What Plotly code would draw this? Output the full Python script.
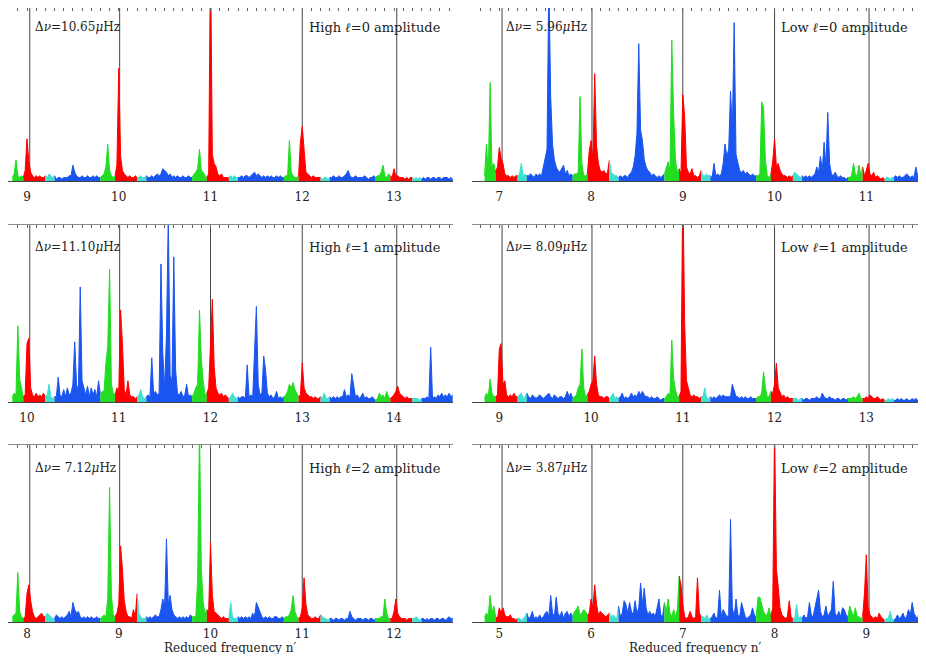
import numpy as np
import plotly.graph_objects as go

# Spectra sampled every 0.02 in reduced frequency n', amplitude in % of panel height
grid_step = 0.02

# High l=0 (Delta nu = 10.65 muHz), first sample at n' = 8.84
amp_high_l0 = [
    2, 4, 12, 3, 2, 3, 2, 6, 24, 11,
    5, 3, 2, 3, 2, 3, 2, 2, 3, 2,
    4, 3, 2, 3, 1, 2, 2, 1, 2, 2,
    2, 3, 3, 9, 5, 3, 2, 2, 3, 2,
    2, 3, 2, 2, 3, 2, 3, 2, 2, 3,
    4, 8, 21, 6, 3, 2, 3, 9, 64, 14,
    6, 4, 3, 2, 3, 2, 2, 3, 2, 2,
    3, 2, 2, 3, 2, 2, 3, 2, 3, 4,
    3, 4, 7, 6, 5, 3, 4, 2, 3, 2,
    3, 2, 2, 3, 2, 2, 3, 2, 2, 4,
    5, 7, 18, 6, 5, 3, 2, 4, 130, 15,
    10, 8, 4, 3, 4, 2, 2, 2, 2, 3,
    2, 3, 2, 2, 2, 3, 2, 3, 3, 2,
    3, 4, 5, 3, 4, 3, 2, 3, 2, 3,
    2, 3, 2, 2, 3, 2, 3, 2, 2, 3,
    3, 23, 5, 3, 2, 2, 3, 22, 31, 15,
    5, 4, 3, 2, 3, 2, 2, 2, 2, 1,
    2, 2, 1, 2, 2, 3, 2, 2, 3, 2,
    2, 3, 4, 6, 3, 2, 2, 3, 2, 2,
    2, 2, 3, 2, 1, 2, 2, 3, 2, 3,
    3, 5, 9, 3, 2, 4, 3, 2, 7, 3,
    3, 2, 2, 2, 1, 2, 1, 2, 2, 1,
    2, 1, 2, 1, 2, 1, 2, 2, 1, 2,
    2, 1, 2, 2, 1, 2, 2, 2, 1, 2,
    1,
]

# Low l=0 (Delta nu = 5.96 muHz), first sample at n' = 6.84
amp_low_l0 = [
    3, 21, 5, 56, 8, 10, 5, 8, 19, 13,
    10, 4, 3, 3, 2, 3, 2, 3, 3, 4,
    10, 3, 4, 3, 3, 4, 3, 2, 4, 3,
    4, 3, 8, 14, 18, 115, 48, 21, 12, 8,
    6, 5, 7, 9, 4, 6, 3, 4, 3, 4,
    4, 5, 48, 10, 3, 3, 4, 17, 23, 12,
    61, 20, 10, 6, 5, 6, 4, 5, 12, 5,
    4, 3, 3, 2, 3, 2, 3, 3, 2, 4,
    5, 8, 14, 27, 78, 29, 23, 12, 8, 6,
    5, 3, 4, 3, 2, 3, 2, 3, 4, 8,
    11, 6, 80, 38, 12, 5, 7, 4, 49, 37,
    8, 5, 4, 7, 3, 3, 2, 3, 6, 3,
    3, 4, 3, 3, 2, 10, 3, 4, 3, 4,
    10, 21, 14, 18, 51, 29, 90, 15, 10, 6,
    5, 6, 4, 5, 4, 3, 4, 3, 3, 3,
    4, 45, 42, 12, 3, 2, 4, 11, 24, 8,
    10, 6, 4, 3, 3, 2, 3, 2, 3, 5,
    4, 3, 2, 3, 2, 3, 2, 3, 2, 3,
    4, 8, 5, 14, 6, 22, 9, 39, 10, 4,
    3, 5, 3, 2, 3, 2, 2, 1, 2, 2,
    3, 10, 4, 3, 9, 3, 8, 3, 6, 10,
    4, 3, 5, 2, 3, 2, 1, 2, 1, 2,
    2, 1, 2, 2, 3, 2, 3, 2, 2, 3,
    4, 3, 2, 3, 2, 8, 3, 4, 2, 9,
    3,
]

# High l=1 (Delta nu = 11.10 muHz), first sample at n' = 9.84
amp_high_l1 = [
    3, 5, 4, 43, 13, 8, 3, 4, 33, 36,
    8, 4, 3, 5, 3, 4, 3, 5, 3, 4,
    10, 3, 2, 3, 3, 14, 4, 3, 7, 3,
    8, 4, 5, 10, 34, 10, 6, 65, 12, 8,
    4, 9, 3, 8, 4, 7, 3, 12, 4, 6,
    6, 22, 31, 75, 10, 5, 4, 8, 6, 52,
    33, 7, 4, 12, 4, 3, 3, 2, 3, 4,
    7, 3, 2, 3, 4, 3, 25, 5, 6, 4,
    5, 78, 28, 8, 38, 105, 15, 12, 82, 18,
    5, 4, 6, 3, 4, 10, 3, 4, 3, 5,
    8, 10, 52, 24, 12, 4, 5, 8, 32, 58,
    20, 8, 5, 4, 5, 3, 4, 3, 2, 3,
    5, 3, 2, 3, 2, 3, 3, 2, 21, 3,
    4, 3, 29, 54, 10, 4, 5, 26, 18, 5,
    3, 4, 2, 3, 6, 2, 3, 2, 3, 4,
    6, 10, 8, 11, 7, 5, 3, 4, 22, 8,
    5, 4, 3, 3, 2, 3, 2, 2, 3, 2,
    5, 2, 2, 3, 2, 3, 2, 3, 2, 3,
    3, 7, 3, 4, 3, 16, 8, 3, 4, 2,
    3, 5, 2, 3, 2, 2, 3, 2, 1, 2,
    5, 3, 4, 2, 6, 3, 2, 3, 4, 6,
    9, 5, 4, 3, 2, 3, 2, 2, 2, 2,
    2, 2, 1, 2, 2, 2, 3, 2, 31, 2,
    3, 2, 4, 3, 5, 3, 4, 3, 5, 3,
    4,
]

# Low l=1 (Delta nu = 8.09 muHz), first sample at n' = 8.84
amp_low_l1 = [
    2, 5, 3, 13, 5, 3, 3, 4, 30, 33,
    10, 12, 4, 3, 4, 3, 5, 3, 3, 4,
    5, 2, 3, 5, 3, 2, 4, 3, 2, 3,
    4, 3, 2, 3, 4, 5, 3, 2, 4, 3,
    2, 3, 3, 2, 3, 6, 3, 5, 2, 3,
    4, 8, 10, 30, 8, 3, 4, 6, 10, 12,
    26, 10, 4, 3, 3, 2, 3, 3, 2, 3,
    5, 2, 3, 2, 3, 5, 2, 3, 2, 3,
    5, 3, 4, 3, 6, 4, 6, 4, 3, 3,
    2, 3, 2, 2, 3, 2, 1, 2, 2, 3,
    5, 4, 35, 13, 7, 3, 3, 6, 125, 45,
    12, 8, 4, 3, 4, 3, 3, 2, 3, 3,
    8, 2, 2, 3, 2, 3, 2, 3, 4, 3,
    4, 3, 3, 3, 3, 10, 6, 3, 3, 2,
    3, 2, 3, 2, 2, 3, 2, 2, 2, 3,
    3, 5, 17, 8, 3, 3, 6, 5, 10, 22,
    8, 5, 3, 4, 2, 3, 2, 2, 2, 2,
    2, 1, 2, 2, 1, 2, 2, 1, 2, 2,
    2, 3, 2, 2, 5, 3, 2, 2, 3, 2,
    2, 1, 2, 2, 1, 2, 2, 1, 2, 2,
    2, 3, 2, 3, 5, 2, 2, 2, 3, 2,
    4, 3, 2, 2, 3, 2, 1, 2, 1, 1,
    2, 1, 2, 1, 1, 2, 1, 2, 1, 1,
    2, 1, 1, 2, 1, 2, 1, 1, 2, 1,
    1,
]

# High l=2 (Delta nu = 7.12 muHz), first sample at n' = 7.84
amp_high_l2 = [
    3, 4, 5, 28, 6, 3, 2, 3, 16, 21,
    12, 6, 3, 2, 3, 4, 5, 3, 3, 5,
    4, 3, 2, 2, 4, 3, 2, 3, 2, 3,
    4, 6, 3, 11, 7, 5, 6, 3, 2, 3,
    2, 3, 2, 3, 2, 2, 3, 2, 2, 3,
    4, 3, 13, 76, 15, 4, 3, 5, 10, 43,
    30, 12, 6, 3, 3, 2, 7, 3, 16, 5,
    3, 2, 2, 3, 2, 3, 2, 3, 4, 3,
    3, 7, 13, 9, 47, 10, 15, 7, 4, 3,
    2, 3, 2, 3, 2, 3, 2, 4, 3, 3,
    3, 24, 110, 30, 11, 5, 7, 6, 45, 15,
    6, 5, 4, 3, 2, 3, 2, 2, 2, 11,
    3, 2, 2, 3, 2, 3, 2, 3, 2, 3,
    2, 5, 3, 11, 8, 6, 3, 2, 3, 2,
    3, 2, 2, 3, 3, 2, 2, 3, 2, 3,
    3, 4, 7, 15, 6, 3, 2, 3, 8, 25,
    10, 4, 3, 2, 2, 3, 2, 2, 4, 3,
    2, 2, 1, 2, 2, 1, 2, 2, 1, 2,
    2, 1, 2, 2, 6, 3, 2, 1, 2, 2,
    2, 1, 2, 2, 1, 2, 2, 1, 2, 2,
    2, 3, 3, 13, 5, 2, 2, 2, 6, 13,
    5, 3, 2, 2, 2, 1, 2, 2, 2, 2,
    3, 2, 1, 2, 2, 1, 2, 1, 2, 2,
    1, 2, 2, 1, 2, 2, 1, 2, 3, 2,
    2,
]

# Low l=2 (Delta nu = 3.87 muHz), first sample at n' = 4.84
amp_low_l2 = [
    3, 5, 4, 15, 5, 9, 3, 2, 8, 5,
    8, 4, 3, 3, 4, 2, 2, 1, 2, 2,
    1, 2, 3, 5, 2, 3, 6, 2, 3, 2,
    4, 2, 3, 5, 6, 3, 15, 5, 3, 14,
    5, 3, 6, 2, 5, 6, 3, 5, 3, 6,
    7, 9, 4, 5, 7, 6, 4, 5, 13, 8,
    21, 10, 4, 6, 5, 4, 3, 4, 5, 3,
    4, 3, 2, 9, 3, 5, 12, 10, 5, 11,
    6, 4, 12, 5, 8, 22, 10, 19, 8, 4,
    6, 4, 5, 3, 8, 13, 4, 3, 11, 6,
    13, 5, 3, 7, 3, 7, 26, 21, 10, 3,
    2, 3, 6, 3, 2, 3, 25, 5, 3, 3,
    2, 4, 2, 2, 3, 5, 2, 3, 18, 3,
    7, 5, 3, 4, 58, 8, 3, 13, 4, 3,
    11, 7, 3, 2, 3, 4, 8, 4, 3, 14,
    14, 10, 6, 4, 4, 8, 3, 8, 110, 30,
    20, 8, 4, 3, 2, 3, 12, 3, 2, 2,
    10, 2, 3, 2, 4, 2, 3, 11, 4, 3,
    8, 12, 18, 6, 3, 4, 9, 3, 5, 7,
    23, 5, 3, 6, 3, 8, 7, 4, 3, 9,
    6, 3, 8, 3, 3, 2, 3, 16, 38, 8,
    4, 3, 2, 3, 2, 5, 3, 2, 1, 2,
    2, 6, 2, 1, 2, 4, 2, 3, 5, 2,
    3, 7, 4, 11, 5, 3, 2, 7, 3, 12,
    5,
]

spectra = [amp_high_l0, amp_low_l0, amp_high_l1, amp_low_l1, amp_high_l2, amp_low_l2]
grid_start = [8.84, 6.84, 9.84, 8.84, 7.84, 4.84]
first_tick = [9, 7, 10, 9, 8, 5]
ref_lines = [
    [9.03, 10.01, 11.0, 12.0, 13.03],
    [7.03, 8.01, 9.0, 10.0, 11.03],
    [10.03, 11.01, 12.0, 13.0, 14.03],
    [9.03, 10.01, 11.0, 12.0, 13.03],
    [8.03, 9.01, 10.0, 11.0, 12.03],
    [5.03, 6.01, 7.0, 8.0, 9.03],
]
dnu_labels = ["Δ<i>ν</i>=10.65<i>μ</i>Hz", "Δ<i>ν</i>= 5.96<i>μ</i>Hz",
              "Δ<i>ν</i>=11.10<i>μ</i>Hz", "Δ<i>ν</i>= 8.09<i>μ</i>Hz",
              "Δ<i>ν</i>= 7.12<i>μ</i>Hz", "Δ<i>ν</i>= 3.87<i>μ</i>Hz"]
amp_labels = ["High <i>ℓ</i>=0 amplitude", "Low <i>ℓ</i>=0 amplitude",
              "High <i>ℓ</i>=1 amplitude", "Low <i>ℓ</i>=1 amplitude",
              "High <i>ℓ</i>=2 amplitude", "Low <i>ℓ</i>=2 amplitude"]

# window is 926x662; the page body adds an 8px margin (only the bottom one can scroll)
WIN_W, WIN_H, OFF = 926, 662, 8
W, H = WIN_W - OFF, WIN_H - 2 * OFF
FONT = "DejaVu Serif"
INK = "#222222"
COLORS = {"red": "#ff0000", "cyan": "#40e0d0", "blue": "#1a55f0", "green": "#22dd22"}

# layout in window pixels
col_px = [(0, 453), (472, 926)]
row_px = [(5, 181), (225, 402), (445, 622)]
label_px = [27, 499.3]      # where the first integer tick sits
px_per_unit = 91.75
text_y = [27, 247, 468]
dnu_x = [33, 504]
lab_x = [307, 779]
title_x = [230, 695]
standoff = [5, 5, 1]


def band(x):
    h = int(round(x * 100)) % 100
    if h >= 96 or h < 20:
        return "red"
    if h < 30:
        return "cyan"
    if h < 80:
        return "blue"
    return "green"


def px(x):
    return (x - OFF) / W


def py(y):
    return 1 - (y - OFF) / H


fig = go.Figure()
layout = {}
annotations = []

for k in range(6):
    r, c = divmod(k, 2)
    ax = k + 1
    xa = "x" if ax == 1 else f"x{ax}"
    ya = "y" if ax == 1 else f"y{ax}"
    top = k + 7

    x0, x1 = col_px[c]
    x0c, x1c = max(x0, OFF), min(x1, WIN_W)
    y0, y1 = row_px[r]
    y0c = max(y0, OFF)
    lo = first_tick[k] + (x0c - label_px[c]) / px_per_unit
    hi = first_tick[k] + (x1c - label_px[c]) / px_per_unit
    ytop = 100 * (y1 - y0c) / (y1 - y0)

    # reference lines
    lx, ly = [], []
    for v in ref_lines[k]:
        lx += [v, v, None]
        ly += [0, 100, None]
    fig.add_trace(go.Scatter(x=lx, y=ly, mode="lines", xaxis=xa, yaxis=ya,
                             line=dict(color="#444444", width=1),
                             hoverinfo="skip", showlegend=False))

    # spectrum, one trace per colour run
    amp = spectra[k]
    xs = grid_start[k] + grid_step * np.arange(len(amp))
    i, n = 0, len(amp)
    while i < n:
        cname = band(xs[i])
        j = i
        while j + 1 < n and band(xs[j + 1]) == cname:
            j += 1
        end = min(j + 1, n - 1)
        fig.add_trace(go.Scatter(x=xs[i:end + 1], y=amp[i:end + 1], mode="lines",
                                 xaxis=xa, yaxis=ya,
                                 line=dict(color=COLORS[cname], width=1),
                                 fill="tozeroy", fillcolor=COLORS[cname],
                                 hoverinfo="skip", showlegend=False))
        i = j + 1

    # dummy trace so the top (tick) axis gets drawn
    fig.add_trace(go.Scatter(x=[None], y=[None], xaxis=f"x{top}", yaxis=ya,
                             showlegend=False, hoverinfo="skip"))

    layout["xaxis" if ax == 1 else f"xaxis{ax}"] = dict(
        domain=[px(x0c), px(x1c)], range=[lo, hi], anchor=ya, showgrid=False,
        zeroline=False, showline=True, linecolor="#444444", linewidth=1, ticks="",
        tickmode="linear", tick0=0, dtick=1, ticklabelstandoff=standoff[r],
        tickfont=dict(family=FONT, size=12, color=INK))
    layout[f"xaxis{top}"] = dict(
        domain=[px(x0c), px(x1c)], range=[lo, hi], anchor=ya, overlaying=xa,
        side="top", showgrid=False, zeroline=False, showline=True,
        linecolor="#8a8a8a", linewidth=1, ticks="inside", ticklen=3,
        tickcolor="#666666", tickmode="linear", tick0=0, dtick=0.1,
        showticklabels=False)
    layout["yaxis" if ax == 1 else f"yaxis{ax}"] = dict(
        domain=[py(y1), py(y0c)], range=[0, ytop], anchor=xa, visible=False,
        fixedrange=True)

    annotations.append(dict(text=dnu_labels[k], xref="paper", yref="paper",
                            x=px(dnu_x[c]), y=py(text_y[r]), xanchor="left",
                            yanchor="middle", showarrow=False,
                            font=dict(family=FONT, size=12, color=INK)))
    annotations.append(dict(text=amp_labels[k], xref="paper", yref="paper",
                            x=px(lab_x[c]), y=py(text_y[r]), xanchor="left",
                            yanchor="middle", showarrow=False,
                            font=dict(family=FONT, size=13, color=INK)))

for cx in title_x:
    annotations.append(dict(text="Reduced frequency n′", xref="paper", yref="paper",
                            x=px(cx), y=0, xanchor="center", yanchor="bottom",
                            yshift=-2, showarrow=False, borderpad=0,
                            font=dict(family=FONT, size=12, color=INK)))

fig.update_layout(**layout)
fig.update_layout(width=W, height=H, margin=dict(l=0, r=0, t=0, b=0),
                  paper_bgcolor="white", plot_bgcolor="white",
                  annotations=annotations, showlegend=False)

fig.write_html("out.html")
